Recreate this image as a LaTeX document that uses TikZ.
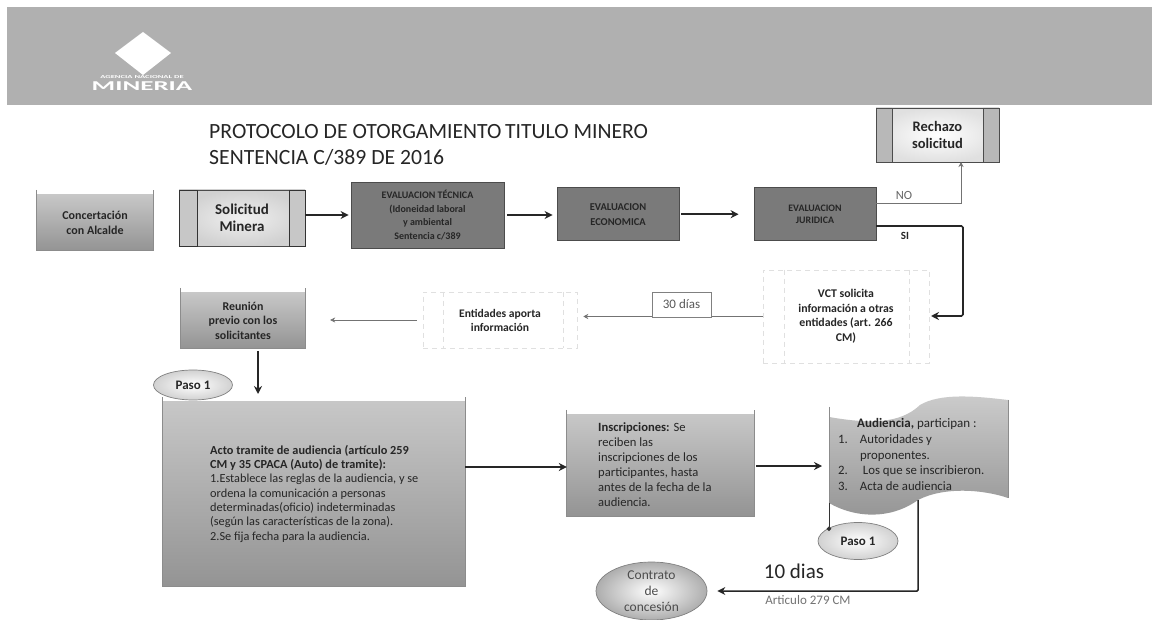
\documentclass[tikz,border=0pt]{standalone}
\usepackage{fontspec}
\setmainfont{Carlito}
\usetikzlibrary{arrows.meta,shapes.geometric,calc}
\definecolor{banner}{RGB}{176,176,176}
\definecolor{darkg}{RGB}{122,122,122}
\newcommand{\fs}[2]{\fontsize{#1}{#2}\selectfont}
\tikzset{
  x=1pt,y=-1pt,
  softbox/.style={top color=black!22,bottom color=black!42,align=center,text=black!85,inner sep=0pt},
  darkbox/.style={draw=black!70,line width=.8pt,fill=darkg,align=center,text=black!85,inner sep=0pt},
  predef/.style={draw=black!70,line width=.8pt,align=center,text=black!85,inner sep=0pt},
  faint/.style={draw=black!12,line width=.5pt,dash pattern=on 5pt off 4pt,align=center,text=black!85,inner sep=0pt},
  spike/.style={draw=black!45,line width=.8pt},
  thick arrow/.style={-{Stealth[length=8pt,width=8pt]},line width=1.5pt,black!85},
  thin arrow/.style={-{Stealth[length=5pt,width=5pt]},line width=.6pt,black!55},
  stepoval/.style={ellipse,draw=black!50,line width=.7pt,inner color=white,outer color=black!18,font=\fs{13}{15}\bfseries,text=black!85,inner sep=0pt},
}
\begin{document}
\begin{tikzpicture}
\useasboundingbox (0,0) rectangle (1152,620);
\fill[white] (0,0) rectangle (1152,620);
% banner
\fill[banner] (7,7) rectangle (1152,105);
\fill[white] (143,32) -- (171,53) -- (143,75) -- (115,53) -- cycle;
\node[text=white,font=\fs{4.5}{5}\bfseries] (logotop) at (142,77) {\scalebox{1.9}[1]{AGENCIA NACIONAL DE}};
\node[text=white,font=\fs{13.5}{14}\bfseries] (logo) at (142,86) {\scalebox{2.0}[1]{MINERIA}};
% title
\node[anchor=west,align=left,font=\fs{21.7}{26},text=black!85,inner sep=0pt] (title) at (209,145) {PROTOCOLO DE OTORGAMIENTO\,TITULO MINERO\\SENTENCIA C/389 DE 2016};
% top row
\node[softbox,minimum width=116pt,minimum height=55pt,font=\fs{12}{15}\bfseries] (conc) at (95,222.5) {Concertación\\con Alcalde};
\node[predef,minimum width=126pt,minimum height=56pt,inner color=black!6,outer color=black!18,font=\fs{15}{17}\bfseries] (sol) at (242,218) {Solicitud\\Minera};
\draw[line width=.9pt,black!80,fill=black!22] (179,190) rectangle (197,246) (289,190) rectangle (305,246);
\node[darkbox,minimum width=153pt,minimum height=66pt,font=\fs{10}{13.8}\bfseries] (tec) at (427.5,215) {EVALUACION TÉCNICA\\(Idoneidad laboral\\y ambiental\\Sentencia c/389};
\node[darkbox,minimum width=122pt,minimum height=53pt,font=\fs{10.5}{15}\bfseries] (eco) at (618,214.2) {EVALUACION\\ECONOMICA};
\node[darkbox,minimum width=122pt,minimum height=53pt,font=\fs{9.9}{12}\bfseries] (jur) at (815,214.2) {EVALUACION\\JURIDICA};
\node[predef,minimum width=123pt,minimum height=54pt,inner color=white,outer color=black!12,font=\fs{14.5}{17}\bfseries] (rech) at (937.5,135) {Rechazo\\solicitud};
\draw[line width=.8pt,black!70,fill=black!28] (876,108) rectangle (892,162) (983,108) rectangle (999,162);
% second row
\node[faint,minimum width=166pt,minimum height=93pt,font=\fs{11.8}{14.5}\bfseries] (vct) at (846,316.5) {VCT solicita\\información a otras\\entidades (art. 266\\CM)};
\draw[faint] (784,270) -- (784,363) (909,270) -- (909,363);
\node[faint,minimum width=154pt,minimum height=56pt,font=\fs{11.6}{14}\bfseries] (ent) at (500,320) {Entidades aporta\\información};
\draw[faint] (443,292) -- (443,348) (563,292) -- (563,348);
\node[softbox,minimum width=124pt,minimum height=55pt,font=\fs{11.9}{14.5}\bfseries] (reun) at (243,320.5) {Reunión\\previo con los\\solicitantes};
% third row
\node[stepoval,minimum width=79pt,minimum height=30pt] (p1a) at (193,385) {Paso 1};
\node[softbox,minimum width=302pt,minimum height=184pt] (acto) at (314,494) {};
\node[anchor=north west,align=left,font=\fs{12.3}{14.33},text=black!85,inner sep=0pt] (actot) at (210,445) {\textbf{Acto tramite de audiencia (artículo 259}\\\textbf{CM y 35 CPACA (Auto) de tramite):}\\1.Establece las reglas de la audiencia, y se\\ordena la comunicación a personas\\determinadas(oficio) indeterminadas\\(según las características de la zona).\\2.Se fija fecha para la audiencia.};
\node[softbox,minimum width=187pt,minimum height=101pt] (ins) at (660.5,465.5) {};
\node[anchor=north west,align=left,font=\fs{12.6}{15},text=black!85,inner sep=0pt] (inst) at (598,422) {\textbf{Inscripciones:} Se\\reciben las\\inscripciones de los\\participantes, hasta\\antes de la fecha de la\\audiencia.};
\foreach \b in {conc,reun,acto,ins}{
  \draw[spike] ($(\b.north west)+(0,-5)$) -- (\b.south west) -- (\b.south east) -- ($(\b.north east)+(0,-5)$);
}
% document shape
\path[top color=black!20,bottom color=black!42] (829,407) -- (829,417) .. controls (870,424) and (900,424) .. (920,405) .. controls (940,393) and (975,396) .. (1008,400) -- (1008,498) .. controls (985,490) and (945,486) .. (918,500) .. controls (890,520) and (855,518) .. (829,503) -- cycle;
\draw[spike] (829,407) -- (829,503);
\draw[spike] (1008,400) -- (1008,498);
\coordinate (audin) at (829,466);
\coordinate (audbot) at (918,500);
\coordinate (audleft) at (829,503);
\node[anchor=north west,align=left,font=\fs{13}{15.7},text=black!85,inner sep=0pt] (audt) at (857,418) {\textbf{Audiencia,} participan :};
\node[anchor=north west,align=left,font=\fs{12.8}{15.7},text=black!85,inner sep=0pt] (audl) at (838,434.5) {1.\hspace{12pt}Autoridades y\\\hspace*{22pt}proponentes.\\2.\hspace{15pt}Los que se inscribieron.\\3.\hspace{12pt}Acta de audiencia};
\node[stepoval,minimum width=80pt,minimum height=37pt] (p1b) at (858,541) {Paso 1};
\node[ellipse,draw=black!50,line width=.7pt,inner color=white,outer color=black!32,minimum width=111pt,minimum height=58pt,align=center,font=\fs{13.5}{16},text=black!70,inner sep=0pt] (cont) at (651.5,591) {Contrato\\de\\concesión};
\node[font=\fs{21}{22},text=black!85,inner sep=0pt] (diez) at (794,571) {10 dias};
\node[font=\fs{13}{14},text=black!55,inner sep=0pt] (art) at (808,600) {Articulo 279 CM};
% connectors
\draw[thick arrow,shorten >=2pt] (sol.east |- tec.west) -- (tec.west);
\draw[thick arrow,shorten <=3pt,shorten >=4pt] (tec.east) -- (tec.east -| eco.west);
\draw[thick arrow,shorten <=2pt,shorten >=15pt] (eco.east) -- (jur.west);
\coordinate (jurno) at (876,203);
\coordinate (rechin) at (961,162);
\draw[thin arrow] (jurno) -| (rechin);
\node[font=\fs{12.5}{14},text=black!60,inner sep=0pt] (no) at (904,195) {NO};
\coordinate (jursi) at (876,226);
\coordinate (vctin) at (931,316);
\draw[-{Stealth[length=8pt,width=8pt]},line width=1.7pt,black!85,rounded corners=1.5pt] (jursi) -| (963,316) -- (vctin);
\node[font=\fs{11}{12}\bfseries,text=black!85,inner sep=0pt] (si) at (905,236) {SI};
\draw[thin arrow,shorten >=6pt] (vct.west) -- (vct.west -| ent.east);
\node[draw=black!50,fill=white,line width=.6pt,minimum width=59pt,minimum height=25pt,font=\fs{13}{14},text=black!65,inner sep=0pt] (dias) at (681.5,304.5) {30 días};
\draw[thin arrow,shorten <=6pt,shorten >=25pt] (ent.west) -- (ent.west -| reun.east);
\coordinate (reunout) at (258,351);
\coordinate (actoin) at (258,394);
\draw[thick arrow] (reunout) -- (actoin);
\coordinate (actoout) at (465,467);
\draw[thick arrow] (actoout) -- (actoout -| ins.west);
\draw[thick arrow,shorten <=2pt,shorten >=7pt] (ins.east |- audin) -- (audin);
\coordinate (p1dot) at (829,531);
\draw[line width=.7pt,black!80,-{Circle[length=4.5pt,width=4.5pt]}] (audleft) -- (p1dot);
\draw[-{Stealth[length=8pt,width=8pt]},line width=1.5pt,black!85,rounded corners=1pt,shorten >=10pt] (audbot) |- (cont.east);
\end{tikzpicture}
\end{document}
